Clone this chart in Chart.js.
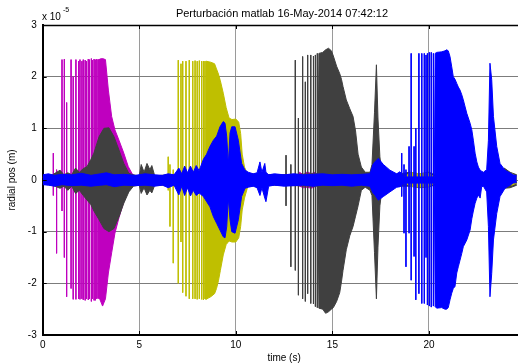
<!DOCTYPE html>
<html><head><meta charset="utf-8">
<script src="https://cdn.jsdelivr.net/npm/chart.js@4.4.1/dist/chart.umd.min.js"></script>
<style>html,body{margin:0;padding:0;overflow:hidden;background:#fff}</style>
</head><body>
<canvas id="c" width="530" height="364"></canvas>
<script>
// ---- axes / labels ----
const chartTitle = 'Perturbación matlab 16-May-2014 07:42:12';
const xLabel = 'time (s)';
const yLabel = 'radial pos (m)';
const xTicks = [0, 5, 10, 15, 20];
const yTicks = [-3, -2, -1, 0, 1, 2, 3];

// ---- magenta series (units of 1e-5 m) ----
const magStrokeT   = [0.55, 0.72, 1.0, 1.12, 1.24, 1.47, 1.58, 1.72, 1.86, 1.93, 2.03, 2.1, 2.2, 2.26, 2.36, 2.42, 2.52, 2.57, 2.66, 2.72, 2.8, 2.87, 2.92];
const magStrokeTop = [0.52, 0.2, 2.33, 2.34, 1.5, 2.33, 2.0, 2.33, 2.3, 2.33, 2.3, 2.33, 2.32, 2.3, 2.34, 2.33, 2.35, 2.32, 2.34, 2.33, 2.34, 2.33, 2.34];
const magStrokeBot = [-0.3, -1.42, -0.6, -1.5, -2.26, -2.1, -2.31, -2.31, -2.3, -2.31, -2.3, -2.32, -2.33, -2.3, -2.32, -2.3, -2.35, -2.3, -2.33, -2.33, -2.3, -2.29, -2.3];
const magEnvT  = [0, 2.9, 2.95, 3.1, 3.25, 3.4, 3.57, 3.74, 3.95, 4.2, 4.43, 4.62, 4.8, 13.1, 13.3, 13.5, 13.7, 13.9, 14.1, 14.3, 24.55];
const magEnvUp = [0.05, 0.05, 2.34, 2.35, 2.33, 1.74, 1.23, 0.97, 0.77, 0.52, 0.26, 0.13, 0.06, 0.06, 0.15, 0.1, 0.16, 0.12, 0.15, 0.06, 0.05];
const magEnvLo = [-0.05, -0.05, -2.3, -2.44, -2.3, -1.8, -1.41, -1.03, -0.73, -0.42, -0.19, -0.1, -0.06, -0.06, -0.12, -0.15, -0.14, -0.16, -0.13, -0.06, -0.05];

// ---- yellow series ----
const yelStrokeT   = [6.5, 6.59, 6.76, 7.02, 7.16, 7.25, 7.42, 7.59, 7.77, 7.89, 8.0, 8.11, 8.23, 8.32, 8.4];
const yelStrokeTop = [0.45, 0.3, 0.2, 2.32, 2.25, 2.3, 2.3, 2.32, 2.3, 2.31, 2.3, 2.31, 2.3, 2.3, 2.3];
const yelStrokeBot = [-0.2, -0.9, -1.61, -2.0, -1.2, -2.18, -2.25, -2.3, -2.3, -2.3, -2.31, -2.3, -2.31, -2.32, -2.3];
const yelEnvT  = [0, 8.42, 8.45, 8.7, 8.9, 9.0, 9.1, 9.2, 9.35, 9.5, 9.65, 9.8, 10.0, 10.15, 10.25, 10.33, 10.45, 10.6, 10.75, 18.8, 19.0, 19.5, 20.0, 20.3, 24.0, 24.3, 24.55];
const yelEnvUp = [0.06, 0.06, 2.3, 2.28, 2.25, 2.15, 2.05, 1.92, 1.68, 1.4, 1.2, 1.17, 1.18, 1.12, 0.9, 0.5, 0.25, 0.12, 0.06, 0.06, 0.15, 0.12, 0.13, 0.06, 0.06, 0.12, 0.06];
const yelEnvLo = [-0.06, -0.06, -2.31, -2.26, -2.2, -2.1, -1.95, -1.75, -1.45, -1.25, -1.18, -1.2, -1.2, -1.12, -0.9, -0.58, -0.35, -0.15, -0.06, -0.06, -0.12, -0.14, -0.12, -0.06, -0.06, -0.1, -0.06];

// ---- dark grey series ----
const gryStrokeT   = [12.6, 12.85, 13.08, 13.24, 13.46, 13.6, 13.72, 13.88, 14.02, 14.12, 14.22];
const gryStrokeTop = [0.48, 0.3, 2.32, 1.2, 2.39, 1.9, 2.42, 2.42, 2.4, 2.42, 2.45];
const gryStrokeBot = [-0.5, -1.68, -1.75, -2.23, -2.3, -2.35, -2.2, -2.39, -2.4, -2.45, -2.47];
const gryEnvT  = [0, 0.5, 0.9, 1.1, 1.3, 1.5, 1.7, 1.9, 2.1, 2.3, 2.5, 2.65, 2.92, 3.17, 3.43, 3.69, 3.95, 4.2, 4.46, 4.7, 5.0, 5.1, 5.25, 5.4, 5.55, 5.65, 5.8, 6.5, 8.0, 9.0, 10.5, 12.0, 14.25, 14.3, 14.5, 14.65, 14.8, 14.95, 15.05, 15.22, 15.38, 15.47, 15.55, 15.72, 15.9, 16.07, 16.2, 16.33, 16.5, 16.7, 16.95, 17.05, 17.18, 17.28, 17.36, 17.46, 17.56, 17.8, 18.5, 19.0, 19.5, 20.0, 20.3, 22.8, 23.7, 23.9, 24.2, 24.55];
const gryEnvUp = [0.08, 0.1, 0.19, 0.1, 0.14, 0.1, 0.23, 0.15, 0.22, 0.26, 0.4, 0.52, 0.84, 1.0, 1.01, 0.84, 0.58, 0.32, 0.13, 0.1, 0.08, 0.3, 0.15, 0.32, 0.2, 0.28, 0.08, 0.1, 0.12, 0.1, 0.12, 0.1, 0.12, 2.45, 2.47, 2.52, 2.55, 2.5, 2.4, 2.2, 2.06, 1.95, 1.81, 1.55, 1.38, 1.23, 0.95, 0.5, 0.25, 0.15, 0.15, 0.3, 1.3, 2.23, 1.2, 0.45, 0.15, 0.1, 0.12, 0.15, 0.12, 0.15, 0.1, 0.1, 0.12, 0.23, 0.15, 0.1];
const gryEnvLo = [-0.08, -0.1, -0.16, -0.12, -0.2, -0.12, -0.26, -0.2, -0.3, -0.39, -0.48, -0.6, -0.77, -0.94, -1.0, -0.94, -0.71, -0.45, -0.23, -0.12, -0.1, -0.26, -0.15, -0.29, -0.2, -0.25, -0.1, -0.1, -0.12, -0.1, -0.12, -0.1, -0.12, -2.48, -2.5, -2.58, -2.55, -2.5, -2.47, -2.35, -2.18, -1.97, -1.75, -1.35, -1.08, -0.9, -0.7, -0.5, -0.2, -0.14, -0.2, -0.3, -1.4, -2.3, -1.3, -0.5, -0.2, -0.12, -0.12, -0.12, -0.15, -0.13, -0.1, -0.1, -0.14, -0.16, -0.15, -0.1];

// ---- blue series ----
const bluStrokeT   = [18.59, 18.71, 18.81, 18.97, 19.08, 19.23, 19.32, 19.48, 19.63, 19.76, 19.85, 19.92, 20.02, 20.12, 20.23];
const bluStrokeTop = [0.52, 0.3, 0.2, 0.65, 2.45, 0.65, 1.0, 2.45, 2.45, 2.45, 2.42, 2.45, 2.47, 2.47, 2.45];
const bluStrokeBot = [-0.32, -1.03, -1.68, -1.03, -1.94, -1.48, -2.32, -2.2, -2.39, -2.39, -1.5, -2.42, -2.44, -2.46, -2.44];
const bluEnvT  = [0, 0.3, 0.6, 1.0, 1.5, 2.0, 2.5, 3.0, 3.3, 3.7, 4.2, 4.8, 5.3, 5.8, 6.2, 6.5, 6.8, 7.05, 7.2, 7.35, 7.5, 7.65, 7.8, 7.95, 8.1, 8.32, 8.49, 8.66, 8.84, 9.01, 9.18, 9.35, 9.44, 9.53, 9.61, 9.7, 9.79, 9.96, 10.13, 10.3, 10.48, 10.65, 10.9, 11.1, 11.25, 11.35, 11.5, 11.56, 11.7, 12.0, 12.5, 13.0, 13.5, 14.0, 14.5, 15.0, 15.5, 16.0, 16.5, 16.95, 17.1, 17.2, 17.38, 17.64, 17.98, 18.33, 18.5, 18.7, 20.28, 20.32, 20.4, 20.66, 20.83, 20.92, 21.0, 21.09, 21.18, 21.26, 21.35, 21.44, 21.52, 21.61, 21.7, 21.78, 21.96, 22.13, 22.22, 22.3, 22.39, 22.48, 22.56, 22.65, 22.73, 22.82, 22.99, 23.08, 23.16, 23.25, 23.34, 23.51, 23.68, 23.94, 24.37, 24.55];
const bluEnvUp = [0.1, 0.12, 0.09, 0.11, 0.1, 0.13, 0.09, 0.12, 0.14, 0.1, 0.11, 0.09, 0.12, 0.1, 0.09, 0.12, 0.1, 0.23, 0.12, 0.27, 0.14, 0.27, 0.15, 0.28, 0.18, 0.4, 0.5, 0.65, 0.77, 0.85, 1.03, 1.13, 1.1, 0.84, 0.3, 0.91, 1.03, 1.03, 0.77, 0.32, 0.19, 0.15, 0.12, 0.14, 0.35, 0.15, 0.32, 0.15, 0.1, 0.12, 0.1, 0.12, 0.1, 0.11, 0.12, 0.1, 0.11, 0.1, 0.11, 0.12, 0.3, 0.35, 0.42, 0.3, 0.19, 0.12, 0.16, 0.06, 0.06, 2.45, 2.47, 2.48, 2.5, 2.52, 2.5, 2.39, 2.19, 2.0, 1.95, 1.87, 1.8, 1.74, 1.65, 1.55, 1.29, 1.1, 0.97, 0.77, 0.52, 0.35, 0.25, 0.19, 0.17, 0.15, 0.2, 0.77, 2.26, 1.94, 1.23, 0.65, 0.32, 0.19, 0.1, 0.08];
const bluEnvLo = [-0.09, -0.1, -0.12, -0.09, -0.11, -0.1, -0.12, -0.1, -0.09, -0.13, -0.1, -0.11, -0.1, -0.12, -0.1, -0.15, -0.1, -0.29, -0.12, -0.3, -0.15, -0.31, -0.2, -0.3, -0.25, -0.32, -0.42, -0.52, -0.71, -0.84, -0.97, -1.1, -1.12, -0.9, -0.35, -0.77, -1.0, -1.03, -0.77, -0.32, -0.16, -0.14, -0.12, -0.15, -0.3, -0.15, -0.35, -0.42, -0.12, -0.1, -0.12, -0.11, -0.1, -0.12, -0.1, -0.11, -0.1, -0.12, -0.1, -0.12, -0.25, -0.29, -0.39, -0.32, -0.23, -0.14, -0.13, -0.06, -0.06, -2.45, -2.48, -2.47, -2.5, -2.5, -2.47, -2.32, -2.19, -2.1, -2.06, -1.8, -1.68, -1.55, -1.42, -1.29, -1.16, -0.97, -0.75, -0.6, -0.45, -0.35, -0.29, -0.35, -0.13, -0.12, -0.23, -0.9, -2.26, -1.81, -1.16, -0.65, -0.32, -0.16, -0.06, -0.05];

// ---- styling ----
const COL_MAG = '#bf00bf', COL_YEL = '#bfbf00', COL_GRY = '#404040', COL_BLU = '#0000ff';
const FONT = "'Liberation Sans', Arial, Helvetica, sans-serif";

function envelope(T, U, L, color, order) {
  const base = {type: 'line', borderColor: color, backgroundColor: color, borderWidth: 1,
    pointRadius: 0, tension: 0, fill: 'origin', order: order};
  return [
    Object.assign({data: T.map((t, i) => ({x: t, y: U[i]}))}, base),
    Object.assign({data: T.map((t, i) => ({x: t, y: L[i]}))}, base)
  ];
}
function strokes(T, TOP, BOT, color, order) {
  const pts = [];
  T.forEach((t, i) => { pts.push({x: t, y: TOP[i]}, {x: t, y: BOT[i]}, {x: t, y: null}); });
  return {type: 'line', data: pts, borderColor: color, borderWidth: 1, pointRadius: 0,
    spanGaps: false, fill: false, tension: 0, order: order};
}

const datasets = [
  strokes(bluStrokeT, bluStrokeTop, bluStrokeBot, COL_BLU, 0), ...envelope(bluEnvT, bluEnvUp, bluEnvLo, COL_BLU, 0),
  strokes(yelStrokeT, yelStrokeTop, yelStrokeBot, COL_YEL, 1), ...envelope(yelEnvT, yelEnvUp, yelEnvLo, COL_YEL, 1),
  strokes(gryStrokeT, gryStrokeTop, gryStrokeBot, COL_GRY, 2), ...envelope(gryEnvT, gryEnvUp, gryEnvLo, COL_GRY, 2),
  strokes(magStrokeT, magStrokeTop, magStrokeBot, COL_MAG, 3), ...envelope(magEnvT, magEnvUp, magEnvLo, COL_MAG, 3)
];

const decor = {
  id: 'decor',
  afterDraw(chart) {
    const {ctx, chartArea: a, scales: {x, y}} = chart;
    ctx.save();
    ctx.strokeStyle = '#000';
    ctx.lineWidth = 1.5;
    ctx.beginPath(); ctx.moveTo(a.left, a.top + 0.5); ctx.lineTo(a.right, a.top + 0.5); ctx.stroke();
    ctx.lineWidth = 1;
    ctx.beginPath();
    xTicks.forEach(v => { const px = Math.round(x.getPixelForValue(v)) + 0.5;
      ctx.moveTo(px, a.bottom); ctx.lineTo(px, a.bottom - 4);
      ctx.moveTo(px, a.top); ctx.lineTo(px, a.top + 4); });
    yTicks.forEach(v => { const py = Math.round(y.getPixelForValue(v)) + 0.5;
      ctx.moveTo(a.left, py); ctx.lineTo(a.left + 4, py); });
    ctx.stroke();
    ctx.fillStyle = '#000';
    ctx.textBaseline = 'middle';
    ctx.textAlign = 'center';
    ctx.font = '11px ' + FONT;
    ctx.fillText(chartTitle, 282, 14);
    ctx.textAlign = 'left';
    ctx.font = '10px ' + FONT;
    ctx.fillText('x 10', 42, 17);
    ctx.font = '7px ' + FONT;
    ctx.fillText('-5', 63, 10);
    ctx.restore();
  }
};

new Chart(document.getElementById('c'), {
  type: 'line',
  data: {datasets},
  plugins: [decor],
  options: {
    responsive: false, animation: false, devicePixelRatio: 1,
    layout: {padding: {top: 25, right: 4.5, left: 0, bottom: 0}},
    plugins: {legend: {display: false}, tooltip: {enabled: false}, title: {display: false}},
    scales: {
      x: {
        type: 'linear', min: 0, max: 25, z: 1,
        afterBuildTicks: s => { s.ticks = xTicks.map(v => ({value: v})); },
        afterFit: s => { s.height = 29; },
        grid: {color: '#9a9a9a', lineWidth: 1, drawTicks: false},
        border: {display: true, color: '#000', width: 2},
        ticks: {color: '#000', font: {family: FONT, size: 10}, padding: 4, maxRotation: 0},
        title: {display: true, text: xLabel, color: '#000', font: {family: FONT, size: 10}, padding: {top: 0, bottom: 0}}
      },
      y: {
        type: 'linear', min: -3, max: 3, z: 1,
        afterBuildTicks: s => { s.ticks = yTicks.map(v => ({value: v})); },
        afterFit: s => { s.width = 42.7; },
        grid: {color: '#7c7c7c', lineWidth: 1, drawTicks: false},
        border: {display: true, color: '#000', width: 2},
        ticks: {color: '#000', font: {family: FONT, size: 10}, padding: 6},
        title: {display: true, text: yLabel, color: '#000', font: {family: FONT, size: 10}, padding: {top: 6, bottom: 0}}
      }
    }
  }
});
</script>
</body></html>
